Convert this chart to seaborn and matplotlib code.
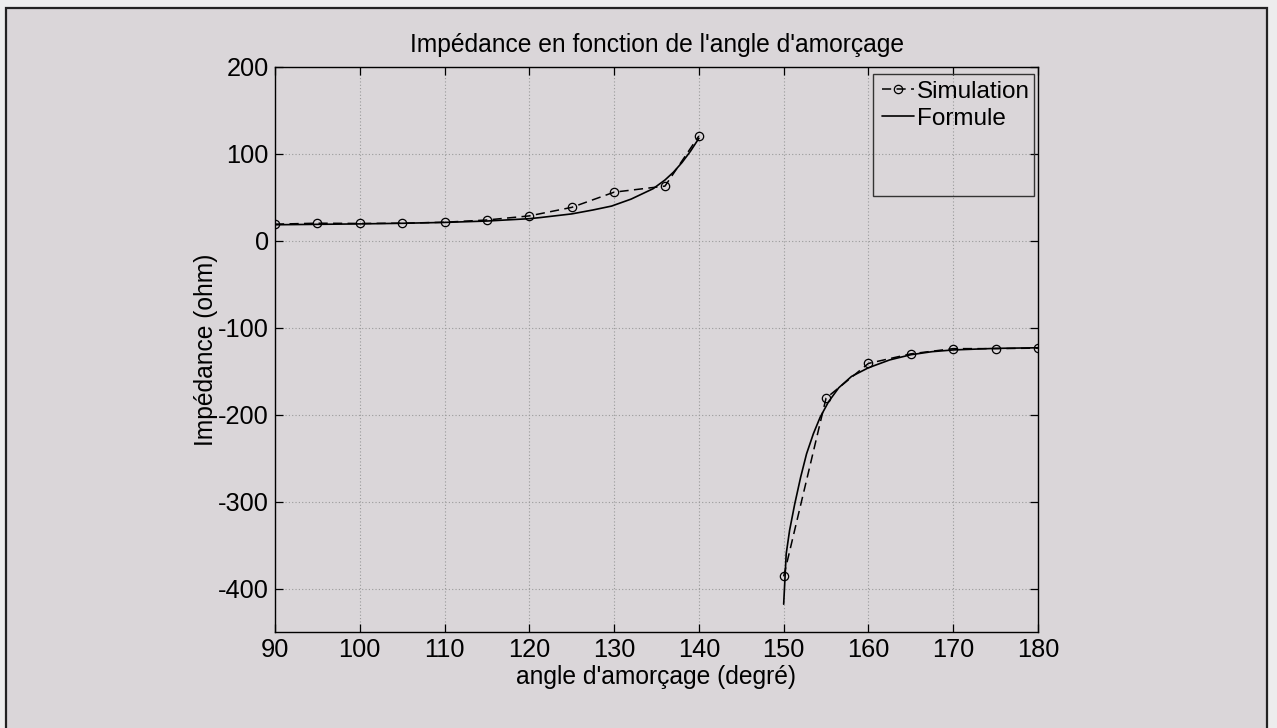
import numpy as np
import pandas as pd
import matplotlib
matplotlib.use("Agg")
import matplotlib.pyplot as plt
import seaborn as sns
from matplotlib.patches import Rectangle

# ---- data ----
sim_angle_1 = [90, 95, 100, 105, 110, 115, 120, 125, 130, 136, 140]
sim_imp_1 = [19.2, 20.3, 20.0, 20.3, 21.4, 24.0, 28.7, 38.5, 56.0, 63.0, 120.7]
sim_angle_2 = [150, 155, 160, 165, 170, 175, 180]
sim_imp_2 = [-386, -181, -141, -130, -124, -124, -123.4]

form_angle_1 = [90, 95, 100, 105, 110, 115, 120, 121.3, 125, 127.5, 129.7,
                132, 134.6, 136, 137, 138, 139, 140]
form_imp_1 = [18.5, 19.0, 19.5, 20.2, 21.2, 22.8, 25.5, 26.8, 31.0, 35.5, 40.0,
              48.0, 60.0, 70.0, 79.0, 90.0, 103.0, 118.0]
form_angle_2 = [150, 150.3, 150.7, 151.3, 152, 152.7, 153.5, 154.3, 155.3,
                156.5, 158, 160, 162.5, 165, 167.5, 170, 175, 180]
form_imp_2 = [-418, -360, -333, -303, -272, -245, -222, -203, -185,
              -169, -156, -146, -137, -131, -127.5, -125.5, -123.7, -123]

xticks = [90, 100, 110, 120, 130, 140, 150, 160, 170, 180]
yticks = [-400, -300, -200, -100, 0, 100, 200]

sim_df = pd.DataFrame({
    "angle": sim_angle_1 + sim_angle_2,
    "imp": sim_imp_1 + sim_imp_2,
    "seg": [1] * len(sim_angle_1) + [2] * len(sim_angle_2),
})
form_df = pd.DataFrame({
    "angle": form_angle_1 + form_angle_2,
    "imp": form_imp_1 + form_imp_2,
    "seg": [1] * len(form_angle_1) + [2] * len(form_angle_2),
})

sns.set_style("ticks")
plt.rcParams.update({
    "font.family": ["Liberation Sans", "DejaVu Sans"],
    "font.size": 17.7,
    "text.color": "black",
    "axes.labelcolor": "black",
    "xtick.color": "black",
    "ytick.color": "black",
    "axes.unicode_minus": False,
})

bg = "#dad6d9"
fig = plt.figure(figsize=(12.77, 7.28), dpi=100, facecolor="#ededed")
fig.patches.append(Rectangle((6 / 1277, -0.05), 1261 / 1277, 1.05 - 8 / 728,
                             transform=fig.transFigure, facecolor=bg,
                             edgecolor="#222222", lw=1.6, zorder=-10))
ax = fig.add_axes([275 / 1277, 1 - 632 / 728, 763 / 1277, 565 / 728])
ax.set_facecolor(bg)

sns.lineplot(data=sim_df, x="angle", y="imp", units="seg", estimator=None,
             sort=False, ax=ax, color="black", lw=1.1,
             linestyle=(0, (6, 3.5)), marker="o", markersize=6,
             markerfacecolor="none", markeredgecolor="black",
             markeredgewidth=0.9, legend=False)
n_sim = len(ax.lines)
sns.lineplot(data=form_df, x="angle", y="imp", units="seg", estimator=None,
             sort=False, ax=ax, color="black", lw=1.2, legend=False)

sim_handle = ax.lines[0]
form_handle = ax.lines[n_sim]

ax.set_xlim(90, 180)
ax.set_ylim(-450, 200)
ax.set_xticks(xticks)
ax.set_yticks(yticks)
ax.grid(True, linestyle=(0, (1, 2)), color="#9a9a9a", lw=0.8)
ax.tick_params(direction="in", top=True, right=True, length=6, width=0.9,
               labelsize=18.3, pad=4.5)
for s in ax.spines.values():
    s.set_visible(True)
    s.set_color("black")
    s.set_linewidth(1.0)

ax.set_title("Impédance en fonction de l'angle d'amorçage", fontsize=17.7, pad=11)
ax.set_xlabel("angle d'amorçage (degré)", fontsize=17.7, labelpad=2)
ax.set_ylabel("Impédance (ohm)", fontsize=17.7, labelpad=0)

ax.add_patch(Rectangle((0.784, 0.772), 0.211, 0.216, transform=ax.transAxes,
                       fill=False, edgecolor="#333333", lw=1.0, zorder=5))
ax.legend([sim_handle, form_handle], ["Simulation", "Formule"],
          loc="upper left", bbox_to_anchor=(0.7955, 0.976), frameon=False,
          borderpad=0, borderaxespad=0, handlelength=1.3, handletextpad=0.15,
          labelspacing=0.22, fontsize=17.5, numpoints=1)

fig.savefig("out.png", dpi=100, facecolor=fig.get_facecolor())
